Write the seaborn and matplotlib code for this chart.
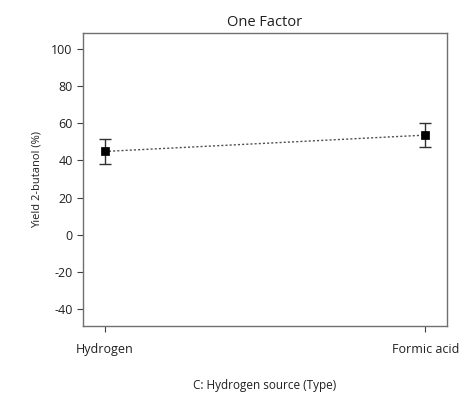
import pandas as pd
import seaborn as sns
import matplotlib.pyplot as plt

# values
sources = ['Hydrogen', 'Formic acid']
yield_mean = [44.8, 53.6]
yield_err = [6.6, 6.5]

df = pd.DataFrame({'source': sources, 'pos': range(len(sources)),
                   'yield': yield_mean, 'err': yield_err})

sns.set_style('white')
plt.rcParams['font.family'] = ['Open Sans', 'DejaVu Sans']
plt.rcParams['axes.unicode_minus'] = False
plt.rcParams['xtick.bottom'] = True
plt.rcParams['ytick.left'] = True
fig = plt.figure(figsize=(4.69, 3.94), dpi=100)
ax = fig.add_axes([83 / 469, 68 / 394, 364 / 469, 293 / 394])

ax.errorbar(df['pos'], df['yield'], yerr=df['err'], fmt='none',
            ecolor='#303030', elinewidth=1.0, capsize=4, capthick=1.0, zorder=2)
sns.lineplot(data=df, x='pos', y='yield', ax=ax, color='#505050',
             linestyle=(0, (1.5, 1.5)), linewidth=1.0, zorder=1)
sns.scatterplot(data=df, x='pos', y='yield', ax=ax, marker='s', s=40,
                color='black', edgecolor='black', zorder=3)

ax.set_xlim(-0.068, 1.068)
ax.set_ylim(-49.2, 108.6)
ax.set_xticks(df['pos'])
ax.set_xticklabels(sources)
ax.set_yticks([-40, -20, 0, 20, 40, 60, 80, 100])
for s in ax.spines.values():
    s.set_color('#707070')
    s.set_linewidth(1.0)
ax.tick_params(axis='both', direction='out', length=4, width=0.8,
               color='#404040', labelsize=9, labelcolor='#202020',
               bottom=True, left=True)
ax.tick_params(axis='x', pad=8)
ax.set_title('One Factor', fontsize=10.5, color='#202020', pad=5)
ax.set_xlabel('C: Hydrogen source (Type)', fontsize=8.5, color='#202020', labelpad=17)
ax.set_ylabel('Yield 2-butanol (%)', fontsize=8, color='#202020', labelpad=6)

fig.savefig('out.png', dpi=100)
plt.close()
